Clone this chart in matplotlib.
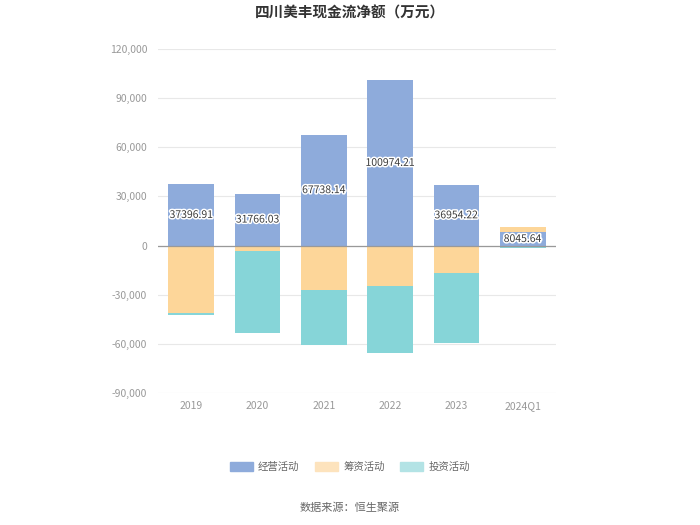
import matplotlib.pyplot as plt
import matplotlib.patheffects as pe
from matplotlib.patches import Patch
import numpy as np

plt.rcParams['font.family'] = ['Noto Sans CJK SC', 'DejaVu Sans']

# 数据（万元）
years = ["2019", "2020", "2021", "2022", "2023", "2024Q1"]
operating = [37396.91, 31766.03, 67738.14, 100974.21, 36954.22, 8045.64]
financing = [-41400, -3300, -27400, -24400, -16800, 3200]
investing = [-800, -49900, -33100, -41100, -42500, -1600]

c_op = "#8eabdb"
c_fin = "#fdd699"
c_inv = "#86d5d8"

fig = plt.figure(figsize=(7, 5.25), dpi=100)
ax = fig.add_axes([0.226, 0.2514, 0.568, 0.6553])

x = np.arange(len(years))
w = 0.69
op = np.array(operating)
fin = np.array(financing)
inv = np.array(investing)

# 正负分别堆叠
pos_base = np.zeros(len(x))
neg_base = np.zeros(len(x))
for vals, col in [(op, c_op), (fin, c_fin), (inv, c_inv)]:
    bottoms = np.where(vals >= 0, pos_base, neg_base)
    ax.bar(x, vals, w, bottom=bottoms, color=col, zorder=2)
    pos_base = pos_base + np.where(vals >= 0, vals, 0)
    neg_base = neg_base + np.where(vals < 0, vals, 0)

for xi, v in zip(x, operating):
    ax.text(xi, v / 2, f"{v:.2f}", ha="center", va="center", fontsize=7.5,
            color="#3a3a3a", zorder=4,
            path_effects=[pe.withStroke(linewidth=2.2, foreground="white")])

ax.set_ylim(-90000, 120000)
ax.set_yticks(range(-90000, 120001, 30000))
ax.set_yticklabels([f"{t:,}" for t in range(-90000, 120001, 30000)])
ax.set_xlim(-0.5, len(years) - 0.5)
ax.set_xticks(x)
ax.set_xticklabels(years)
ax.tick_params(length=0, labelsize=7.5, colors="#999999")
ax.tick_params(axis="y", pad=8)
ax.tick_params(axis="x", pad=6)
for s in ax.spines.values():
    s.set_visible(False)
ax.grid(axis="y", color="#e8e8e8", linewidth=0.8, zorder=0)
ax.axhline(0, color="#999999", linewidth=0.9, zorder=3)

fig.text(0.5, 0.976, "四川美丰现金流净额（万元）", ha="center", va="center",
         fontsize=10.5, fontweight="bold", color="#333333")

handles = [Patch(color=c_op), Patch(color="#fde3bd"), Patch(color="#b3e3e5")]
fig.legend(handles, ["经营活动", "筹资活动", "投资活动"], loc="center",
           bbox_to_anchor=(0.5, 0.11), ncol=3, frameon=False, fontsize=7.5,
           handlelength=2.2, handleheight=1.0, columnspacing=1.5,
           handletextpad=0.5, labelcolor="#666666")

fig.text(0.5, 0.032, "数据来源：恒生聚源", ha="center", va="center",
         fontsize=8, color="#666666")

fig.savefig("out.png", dpi=100)
